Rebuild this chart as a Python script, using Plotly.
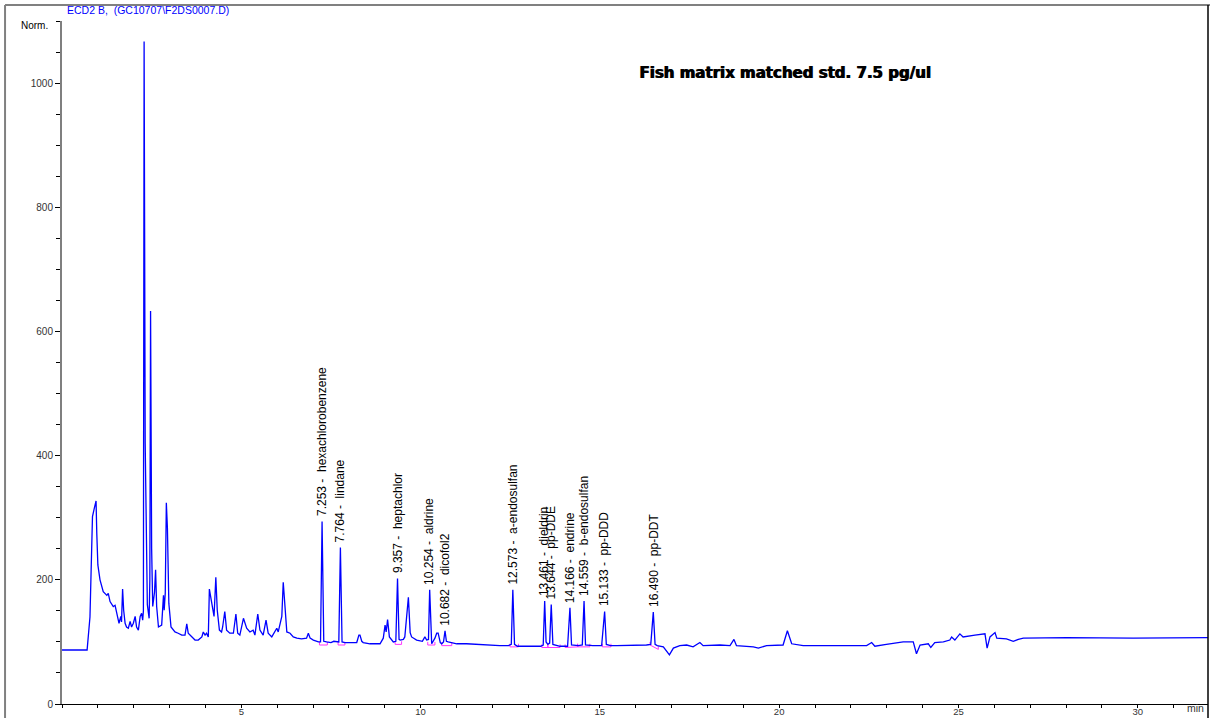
import plotly.graph_objects as go

# ---- chromatogram trace (retention time in min, signal in Norm.) ----
time_min = [
    0.00, 0.70, 0.78, 0.85, 0.90, 0.95, 0.97, 1.00, 1.06, 1.11, 1.15, 1.25, 1.29, 1.34, 1.43, 1.48,
    1.52, 1.59, 1.64, 1.66, 1.69, 1.72, 1.76, 1.80, 1.85, 1.90, 1.94, 1.99, 2.04, 2.08, 2.13, 2.18,
    2.22, 2.25, 2.27, 2.29, 2.32, 2.38, 2.43, 2.45, 2.47, 2.50, 2.53, 2.58, 2.61, 2.64, 2.69, 2.78,
    2.83, 2.85, 2.88, 2.91, 2.94, 2.98, 3.04, 3.15, 3.24, 3.34, 3.43, 3.48, 3.52, 3.62, 3.71, 3.80,
    3.90, 3.94, 3.99, 4.03, 4.08, 4.11, 4.17, 4.24, 4.29, 4.33, 4.39, 4.45, 4.48, 4.54, 4.59, 4.68,
    4.78, 4.85, 4.90, 4.96, 5.06, 5.10, 5.15, 5.24, 5.33, 5.38, 5.46, 5.52, 5.61, 5.69, 5.75, 5.85,
    5.94, 5.99, 6.03, 6.13, 6.17, 6.22, 6.27, 6.36, 6.45, 6.55, 6.68, 6.82, 6.87, 6.92, 7.01, 7.15,
    7.21, 7.253, 7.30, 7.38, 7.50, 7.58, 7.66, 7.72, 7.764, 7.81, 7.89, 8.05, 8.22, 8.28, 8.31, 8.36,
    8.40, 8.59, 8.87, 8.96, 9.01, 9.04, 9.08, 9.13, 9.24, 9.31, 9.357, 9.40, 9.43, 9.52, 9.56, 9.66,
    9.71, 9.75, 9.89, 10.05, 10.12, 10.17, 10.22, 10.254, 10.29, 10.31, 10.40, 10.45, 10.49, 10.55,
    10.59, 10.64, 10.682, 10.72, 10.77, 11.01, 11.28, 11.75, 12.21, 12.45, 12.53, 12.573, 12.62, 12.70,
    13.14, 13.35, 13.42, 13.461, 13.50, 13.55, 13.60, 13.644, 13.69, 13.89, 14.10, 14.166, 14.21, 14.40,
    14.51, 14.559, 14.60, 14.80, 15.05, 15.133, 15.18, 15.30, 15.47, 15.93, 16.30, 16.42, 16.490, 16.54,
    16.60, 16.77, 16.94, 17.05, 17.23, 17.42, 17.60, 17.79, 17.88, 18.35, 18.63, 18.74, 18.81, 19.28,
    19.42, 19.65, 20.11, 20.23, 20.35, 20.67, 21.60, 22.44, 22.58, 22.67, 22.99, 23.46, 23.74, 23.83,
    23.93, 24.16, 24.23, 24.34, 24.58, 24.76, 24.81, 24.90, 25.04, 25.13, 25.46, 25.74, 25.80, 25.88,
    26.02, 26.07, 26.34, 26.53, 26.67, 26.81, 28.02, 29.87, 31.96,
]
signal = [
    87, 87, 140, 302, 315, 327, 275, 224, 200, 187, 181, 175, 178, 165, 157, 159,
    146, 130, 141, 132, 185, 151, 130, 124, 122, 133, 124, 130, 141, 124, 119, 141,
    146, 135, 150, 1067, 420, 160, 138, 200, 633, 250, 157, 180, 216, 157, 124, 127,
    175, 151, 179, 324, 283, 162, 124, 116, 114, 111, 111, 129, 114, 108, 103, 103,
    108, 116, 111, 114, 108, 185, 167, 141, 204, 151, 119, 116, 124, 149, 119, 114,
    114, 145, 114, 111, 138, 130, 122, 116, 119, 111, 145, 119, 111, 135, 114, 108,
    116, 122, 116, 141, 196, 146, 116, 114, 108, 106, 105, 106, 114, 106, 103, 100,
    100, 294, 101, 100, 99, 101, 100, 100, 252, 100, 99, 99, 99, 111, 111, 101,
    99, 97, 97, 106, 127, 116, 136, 108, 100, 101, 202, 104, 103, 104, 108, 172,
    115, 108, 103, 101, 108, 103, 104, 184, 100, 97, 106, 114, 114, 99,
    97, 100, 118, 101, 100, 97, 97, 95, 94, 94, 96, 184, 96, 93,
    93, 93, 95, 166, 100, 96, 98, 160, 96, 93, 93, 155, 95, 94,
    95, 166, 95, 94, 94, 149, 96, 94, 94, 94, 95, 96, 148, 96,
    94, 92, 79, 90, 94, 95, 92, 99, 94, 95, 94, 104, 94, 92,
    90, 94, 95, 118, 97, 94, 94, 94, 99, 93, 96, 100, 100, 81,
    95, 97, 91, 99, 100, 103, 108, 103, 113, 108, 111, 113, 90, 108,
    115, 106, 105, 101, 104, 106, 107, 106, 107,
]

# ---- identified peaks ----
peak_rt = [7.253, 7.764, 9.357, 10.254, 10.682, 12.573, 13.461, 13.644, 14.166, 14.559, 15.133, 16.490]
peak_height = [294, 252, 202, 184, 118, 184, 166, 160, 155, 166, 149, 148]
peak_name = ["hexachlorobenzene", "lindane", "heptachlor", "aldrine", "dicofol2", "a-endosulfan",
             "dieldrin", "pp-DDE", "endrine", "b-endosulfan", "pp-DDD", "pp-DDT"]

# integration baselines (start/end time, start/end level)
base_t0 = [7.18, 7.70, 9.29, 10.20, 10.59, 12.49, 13.38, 13.55, 14.03, 14.38, 15.07, 16.40]
base_t1 = [7.40, 7.89, 9.47, 10.40, 10.87, 12.73, 13.55, 13.89, 14.38, 14.72, 15.31, 16.63]
base_v0 = [95, 95, 96, 95, 94, 92, 91, 91, 91, 92, 92, 95]
base_v1 = [95, 95, 96, 95, 94, 92, 91, 91, 92, 92, 92, 88]

x_range = [0, 31.96]
y_range = [0, 1100]
x_ticks = [5, 10, 15, 20, 25, 30]
y_ticks = [0, 200, 400, 600, 800, 1000]

fig = go.Figure()

# pink integration baselines
bx, by = [], []
for t0, t1, v0, v1 in zip(base_t0, base_t1, base_v0, base_v1):
    bx += [t0, t0, t1, t1, None]
    by += [v0 + 5, v0, v1, v1 + 5, None]
fig.add_trace(go.Scatter(x=bx, y=by, mode="lines", line=dict(color="#ff33ff", width=1),
                         hoverinfo="skip", showlegend=False))

fig.add_trace(go.Scatter(x=time_min, y=signal, mode="lines",
                         line=dict(color="#0000ff", width=1.3), showlegend=False))

for rt, h, name in zip(peak_rt, peak_height, peak_name):
    fig.add_annotation(x=rt, y=h, text=f"{rt:.3f} -  {name}", textangle=-90,
                       showarrow=False, xanchor="center", yanchor="bottom", yshift=3,
                       font=dict(family="Liberation Sans, Arial", size=12, color="#000000"))

fig.add_annotation(xref="paper", yref="paper", x=0.0026, y=1.016, xanchor="left", yanchor="middle",
                   text="ECD2 B,  (GC10707\\F2DS0007.D)", showarrow=False,
                   font=dict(family="Liberation Sans, Arial", size=10.5, color="#0000ff"))
fig.add_annotation(xref="paper", yref="paper", x=-0.0105, y=0.993, xanchor="right", yanchor="middle",
                   text="Norm.", showarrow=False,
                   font=dict(family="Liberation Sans, Arial", size=10, color="#000000"))
fig.add_annotation(xref="paper", yref="paper", x=0.9895, y=-0.006, xanchor="center", yanchor="middle",
                   text="min", showarrow=False,
                   font=dict(family="Liberation Sans, Arial", size=10.5, color="#333333"))
for dx in (0, 0.8):
    fig.add_annotation(xref="paper", yref="paper", x=0.631, y=0.924, xanchor="center", yanchor="middle",
                       text="<b>Fish matrix matched std. 7.5 pg/ul</b>", showarrow=False, xshift=dx,
                       font=dict(family="DejaVu Sans", size=15, color="#000000"))

# page frame
fig.add_shape(type="line", xref="paper", yref="paper", x0=-0.0497, x1=-0.0497, y0=-0.03, y1=1.0234,
              line=dict(color="#808080", width=2), layer="above")
fig.add_shape(type="line", xref="paper", yref="paper", x0=-0.0497, x1=1.003, y0=1.0234, y1=1.0234,
              line=dict(color="#808080", width=2), layer="above")
fig.add_shape(type="line", xref="paper", yref="paper", x0=1.0, x1=1.0, y0=-0.03, y1=1.0234,
              line=dict(color="#000000", width=1.5), layer="above")

tickfont = dict(family="Liberation Sans, Arial", size=10, color="#333333")
fig.update_layout(
    width=1210, height=718,
    margin=dict(l=62, r=2, t=21, b=14),
    paper_bgcolor="white", plot_bgcolor="white",
    template="none",
    xaxis=dict(range=x_range, tickmode="array", tickvals=x_ticks, showgrid=False, zeroline=False,
               showline=True, linecolor="#000000", linewidth=1, ticks="outside", ticklen=3,
               tickcolor="#000000", tickfont=dict(family="Liberation Sans, Arial", size=9.5,
                                                  color="#333333"),
               automargin=False, ticklabelstandoff=-4,
               minor=dict(tickmode="linear", tick0=0, dtick=1, ticks="outside", ticklen=3,
                          tickcolor="#000000", showgrid=False)),
    yaxis=dict(range=y_range, tickmode="array", tickvals=y_ticks, showgrid=False, zeroline=False,
               showline=True, linecolor="#7f7f7f", linewidth=2, ticks="outside", ticklen=5,
               tickcolor="#000000", tickfont=tickfont, automargin=False,
               minor=dict(tickmode="linear", tick0=0, dtick=50, ticks="outside", ticklen=4,
                          tickcolor="#000000", showgrid=False)),
)

fig.write_html("out.html", config={"displayModeBar": False},
               post_script="document.body.style.margin='0px';")
